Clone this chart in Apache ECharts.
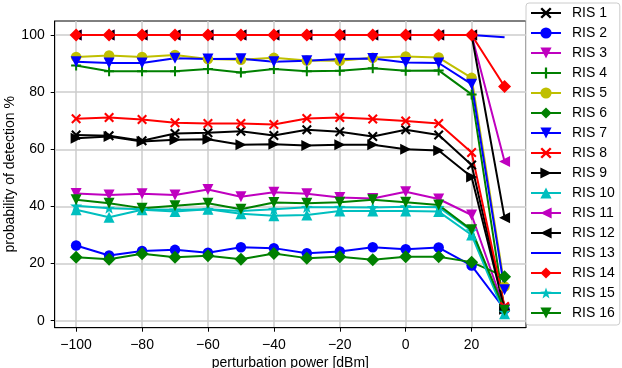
<!DOCTYPE html>
<html><head><meta charset="utf-8">
<script src="https://cdn.jsdelivr.net/npm/echarts@6/dist/echarts.min.js"></script>
<style>html,body{margin:0;padding:0;background:#fff}#c{width:622px;height:368px}</style>
</head><body><div id="c"></div>
<script>
const xValues = [-100,-90,-80,-70,-60,-50,-40,-30,-20,-10,0,10,20,30];
const xTicks = [-100,-80,-60,-40,-20,0,20];
const yTicks = [0,20,40,60,80,100];
const names = ['RIS 1','RIS 2','RIS 3','RIS 4','RIS 5','RIS 6','RIS 7','RIS 8','RIS 9','RIS 10','RIS 11','RIS 12','RIS 13','RIS 14','RIS 15','RIS 16'];
const ris1  = [65, 64.7, 63, 65.5, 65.8, 66.3, 64.8, 66.8, 66.1, 64.5, 66.8, 65, 54.5, 4.5];
const ris2  = [26.3, 22.8, 24.4, 24.8, 23.8, 25.7, 25.4, 23.6, 24.2, 25.7, 25.0, 25.6, 19.3, 4.0];
const ris3  = [44.5, 44, 44.4, 44, 45.9, 43.4, 45, 44.4, 43.1, 42.8, 45.1, 42.6, 37, 4];
const ris4  = [89.3, 87.3, 87.3, 87.3, 88.1, 86.9, 88.1, 87.3, 87.5, 88.4, 87.5, 87.6, 79.2, 3.5];
const ris5  = [92.3, 92.8, 92.3, 93.0, 91.6, 91.3, 92.0, 91.1, 91.0, 92.0, 92.5, 92.1, 85, 12];
const ris6  = [22.2, 21.5, 23.4, 22.2, 22.7, 21.5, 23.5, 21.9, 22.4, 21.3, 22.4, 22.4, 20.5, 15.4];
const ris7  = [90.6, 90.2, 90.2, 91.9, 91.6, 91.7, 90.6, 91.0, 91.6, 91.8, 90.4, 90.2, 82.8, 10.8];
const ris8  = [70.7, 71.1, 70.4, 69.3, 69.0, 69.0, 68.7, 70.8, 71.1, 70.6, 69.9, 69.0, 58.9, 5];
const ris9  = [63.9, 64.5, 62.7, 63.3, 63.5, 61.6, 61.8, 61.3, 61.6, 61.6, 60.0, 59.6, 50.3, 4];
const ris10 = [38.8, 36.2, 38.8, 38.2, 39.0, 37.4, 36.7, 37.0, 38.4, 38.4, 38.4, 38.2, 30.0, 2.43];
const ris11 = [100,100,100,100,100,100,100,100,100,100,100,100,100, 55.7];
const ris12 = [100,100,100,100,100,100,100,100,100,100,100,100,100, 36];
const ris13 = [100,100,100,100,100,100,100,100,100,100,100,100,100, 99.2];
const ris14 = [100,100,100,100,100,100,100,100,100,100,100,100,100, 82];
const ris15 = [40.2, 39.4, 39.0, 38.8, 39.0, 38.4, 39.0, 39.7, 39.7, 39.6, 39.9, 39.7, 31.5, 3];
const ris16 = [42.3, 41.1, 39.4, 40.2, 41.1, 39.0, 41.4, 41.1, 41.5, 42.3, 41.5, 40.5, 31.8, 3.7];
const allData = [ris1,ris2,ris3,ris4,ris5,ris6,ris7,ris8,ris9,ris10,ris11,ris12,ris13,ris14,ris15,ris16];

const K='#000000', B='#0000ff', M='#bf00bf', G='#008000', Y='#bfbf00', C='#00bfbf', R='#ff0000';
const colors = [K,B,M,G,Y,G,B,R,K,C,M,K,B,R,C,G];
const X = 'path://M3,0 L10,7 L17,0 L20,3 L13,10 L20,17 L17,20 L10,13 L3,20 L0,17 L7,10 L0,3 Z';
const P = 'path://M8,0 H12 V8 H20 V12 H12 V20 H8 V12 H0 V8 H8 Z';
const S = 'path://M10,0 L12.35,6.76 L19.51,6.91 L13.8,11.24 L15.88,18.09 L10,14 L4.12,18.09 L6.2,11.24 L0.49,6.91 L7.65,6.76 Z';
// [symbol, rotate, size]
const sym = [
  [X,0,10],['circle',0,10.5],['triangle',180,11],[P,0,10],['circle',0,10.5],['diamond',0,13],['triangle',180,11],[X,0,10],
  ['triangle',-90,11],['triangle',0,11],['triangle',90,11],['triangle',90,11],['none',0,0],['diamond',0,13],[S,0,12],['triangle',180,11]
];

const series = names.map((n,i)=>({
  name:n, type:'line',
  data: xValues.map((x,j)=>[x, allData[i][j]]),
  symbol: sym[i][0], symbolRotate: sym[i][1], symbolSize: sym[i][2],
  showSymbol: sym[i][0] !== 'none',
  symbolKeepAspect: true,
  itemStyle:{color:colors[i]},
  lineStyle:{color:colors[i], width:2},
  emphasis:{disabled:true},
  animation:false, z: 2
}));

const chart = echarts.init(document.getElementById('c'), null, {renderer:'canvas'});
const font = 'Liberation Sans';
const minus = v => String(v).replace('-', '\u2212');
chart.setOption({
  animation:false,
  textStyle:{fontFamily:font},
  grid:{left:54.7, top:21, right:96, bottom:40.3, show:true, borderColor:'#000', borderWidth:1, backgroundColor:'transparent',
        containLabel:false, outerBoundsMode:'none'},
  xAxis:{type:'value', min:-106.5, max:36.5,
    name:'perturbation power [dBm]', nameLocation:'middle', nameGap:26,
    nameTextStyle:{fontSize:14, color:'#000', fontFamily:font},
    axisLine:{show:true, onZero:false, lineStyle:{color:'#000', width:1}},
    axisTick:{show:true, inside:false, length:4, customValues:xTicks, lineStyle:{color:'#000'}},
    axisLabel:{customValues:xTicks, margin:10, fontSize:14, color:'#000', fontFamily:font, formatter:minus},
    splitLine:{show:true, lineStyle:{color:'#cccccc', width:1.5}}
  },
  yAxis:{type:'value', min:-2.45, max:104.9,
    name:'probability of detection %', nameLocation:'middle', nameGap:38, nameRotate:90, nameMoveOverlap:false,
    nameTextStyle:{fontSize:14, color:'#000', fontFamily:font},
    axisLine:{show:true, onZero:false, lineStyle:{color:'#000', width:1}},
    axisTick:{show:true, inside:false, length:4, customValues:yTicks, lineStyle:{color:'#000'}},
    axisLabel:{customValues:yTicks, margin:10, fontSize:14, color:'#000', fontFamily:font},
    splitLine:{show:true, lineStyle:{color:'#cccccc', width:1.5}}
  },
  legend:{orient:'vertical', left:526, top:3, itemWidth:30, itemHeight:14, itemGap:6,
    padding:[3,5,5,4], backgroundColor:'#ffffff', borderColor:'#cccccc', borderWidth:1, borderRadius:3,
    textStyle:{fontSize:14, color:'#000', fontFamily:font, padding:[0,0,0,6]},
    selectedMode:false, z:10,
    data:names.map(n => n === 'RIS 13' ? {name:n, itemStyle:{opacity:0}} : n)
  },
  series: series
});
</script></body></html>
